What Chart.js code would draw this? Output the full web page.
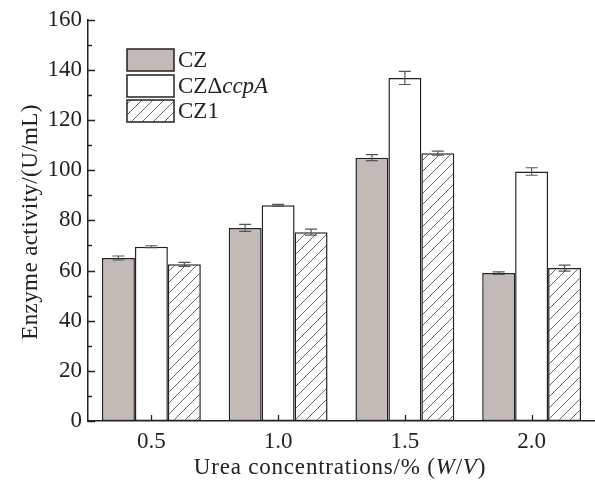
<!DOCTYPE html>
<html>
<head>
<meta charset="utf-8">
<script src="https://cdn.jsdelivr.net/npm/chart.js@4.4.1/dist/chart.umd.min.js"></script>
<style>
  html, body { margin: 0; padding: 0; background: #fff; }
  #wrap { width: 595px; height: 481px; }
</style>
</head>
<body>
<div id="wrap"><canvas id="enzymeChart" width="595" height="481"></canvas></div>
<script>
// dati
const categories = ["0.5", "1.0", "1.5", "2.0"];
const seriesNames = ["CZ", "CZΔccpA", "CZ1"];
const czValues = [65, 77, 105, 59];
const ccpaValues = [69.5, 86, 136.8, 99.5];
const cz1Values = [62.5, 75.3, 106.8, 61];
const czErrors = [0.8, 1.4, 1.2, 0.5];
const ccpaErrors = [0.4, 0.4, 2.6, 1.5];
const cz1Errors = [0.8, 1.2, 0.8, 1.2];
const yTicks = [0, 20, 40, 60, 80, 100, 120, 140, 160];

const SERIF = "'Liberation Serif', 'DejaVu Serif', serif";
const INK = "#222";

// pattern tratteggiato per CZ1
function hatchPattern() {
  const c = document.createElement("canvas");
  c.width = 11; c.height = 11;
  const g = c.getContext("2d");
  g.fillStyle = "#fff";
  g.fillRect(0, 0, 11, 11);
  g.strokeStyle = "#555";
  g.lineWidth = 0.9;
  g.beginPath();
  g.moveTo(-1, 12); g.lineTo(12, -1);
  g.stroke();
  return g.createPattern(c, "repeat");
}

const ctx = document.getElementById("enzymeChart").getContext("2d");

// barre di errore, tacche e legenda disegnate a mano
const extras = {
  id: "extras",
  afterDatasetsDraw(chart) {
    const { ctx, scales: { x, y }, chartArea } = chart;
    const errs = [czErrors, ccpaErrors, cz1Errors];
    ctx.save();
    chart.data.datasets.forEach((ds, i) => {
      const meta = chart.getDatasetMeta(i);
      meta.data.forEach((bar, j) => {
        const v = ds.data[j];
        const e = errs[i][j];
        const yt = y.getPixelForValue(v + e);
        const yb = y.getPixelForValue(v - e);
        ctx.strokeStyle = "#555";
        ctx.lineWidth = 1.2;
        ctx.beginPath();
        ctx.moveTo(bar.x, yt); ctx.lineTo(bar.x, yb);
        ctx.moveTo(bar.x - 6, yt); ctx.lineTo(bar.x + 6, yt);
        ctx.moveTo(bar.x - 6, yb); ctx.lineTo(bar.x + 6, yb);
        ctx.stroke();
      });
    });

    // tacche interne
    ctx.strokeStyle = INK;
    ctx.lineWidth = 1.3;
    ctx.beginPath();
    for (let v = 0; v <= 160; v += 10) {
      const py = Math.round(y.getPixelForValue(v)) + 0.5;
      const len = v % 20 === 0 ? 7 : 4;
      ctx.moveTo(chartArea.left, py); ctx.lineTo(chartArea.left + len, py);
    }
    categories.forEach((c, j) => {
      const px = Math.round(x.getPixelForValue(j)) + 0.5;
      ctx.moveTo(px, chartArea.bottom); ctx.lineTo(px, chartArea.bottom - 6);
    });
    ctx.stroke();

    // legenda
    const boxes = [49, 75, 100];
    const LF = "23px " + SERIF;
    ctx.font = LF;
    ctx.textBaseline = "middle";
    chart.data.datasets.forEach((ds, i) => {
      const top = boxes[i];
      ctx.fillStyle = ds.backgroundColor;
      ctx.fillRect(127, top, 47, 22);
      ctx.strokeStyle = INK;
      ctx.lineWidth = 1.5;
      ctx.strokeRect(127, top, 47, 22);
      ctx.fillStyle = INK;
      const ty = top + 12;
      if (i === 1) {
        ctx.font = LF;
        ctx.fillText("CZΔ", 178, ty);
        const w = ctx.measureText("CZΔ").width;
        ctx.font = "italic " + LF;
        ctx.fillText("ccpA", 178 + w, ty);
        ctx.font = LF;
      } else {
        ctx.fillText(seriesNames[i], 178, ty);
      }
    });

    // titolo asse x con W/V in corsivo
    const parts = [
      ["Urea concentrations/% (", ""],
      ["W", "italic "],
      ["/", ""],
      ["V", "italic "],
      [")", ""],
    ];
    ctx.letterSpacing = "0.8px";
    let total = 0;
    parts.forEach(p => { ctx.font = p[1] + "23px " + SERIF; total += ctx.measureText(p[0]).width; });
    let px = 340 - total / 2;
    ctx.textBaseline = "middle";
    parts.forEach(p => {
      ctx.font = p[1] + "23px " + SERIF;
      ctx.fillText(p[0], px, 468);
      px += ctx.measureText(p[0]).width;
    });

    // titolo asse y
    ctx.letterSpacing = "0.4px";
    ctx.translate(31, 222);
    ctx.rotate(-Math.PI / 2);
    ctx.textAlign = "center";
    ctx.font = "23px " + SERIF;
    ctx.fillText("Enzyme activity/(U/mL)", 0, 0);
    ctx.restore();
  }
};

const common = { borderColor: INK, borderWidth: 1.5, borderSkipped: false, categoryPercentage: 0.78, barPercentage: 1 };

new Chart(ctx, {
  type: "bar",
  data: {
    labels: categories,
    datasets: [
      { label: seriesNames[0], data: czValues, backgroundColor: "#c2bab6", ...common },
      { label: seriesNames[1], data: ccpaValues, backgroundColor: "#ffffff", ...common },
      { label: seriesNames[2], data: cz1Values, backgroundColor: hatchPattern(), ...common },
    ],
  },
  options: {
    responsive: false,
    animation: false,
    layout: { padding: { top: 19, right: 0, left: 0, bottom: 0 } },
    plugins: { legend: { display: false }, tooltip: { enabled: false } },
    scales: {
      x: {
        grid: { display: false, drawTicks: false },
        border: { color: INK, width: 1.5 },
        ticks: { color: INK, font: { family: SERIF, size: 23 }, padding: 7 },
        afterFit: s => { s.height = 60; },
      },
      y: {
        min: 0,
        max: 160,
        afterBuildTicks: s => { s.ticks = yTicks.map(v => ({ value: v })); },
        grid: { display: false, drawTicks: false },
        border: { color: INK, width: 1.5 },
        ticks: { color: INK, font: { family: SERIF, size: 23 }, padding: 6 },
        afterFit: s => { s.width = 88; },
      },
    },
  },
  plugins: [extras],
});
</script>
</body>
</html>
